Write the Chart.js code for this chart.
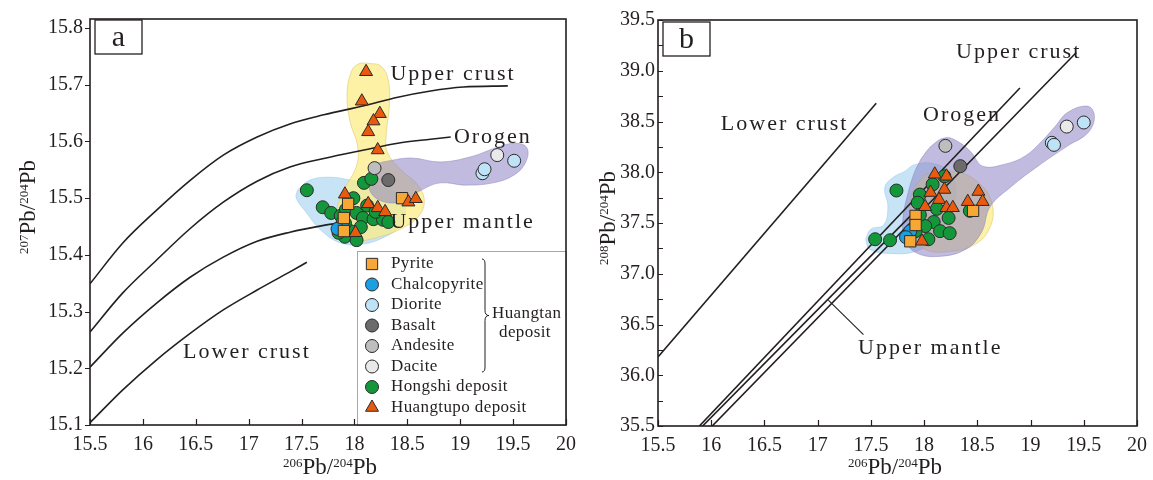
<!DOCTYPE html>
<html>
<head>
<meta charset="utf-8">
<script src="https://cdn.jsdelivr.net/npm/chart.js@4.4.1/dist/chart.umd.min.js"></script>
<style>
  html, body { margin: 0; padding: 0; background: #fff; }
  #wrap { position: relative; width: 1153px; height: 480px; }
  #ca { position: absolute; left: 0; top: 0; }
  #cb { position: absolute; left: 580px; top: 0; }
</style>
</head>
<body>
<div id="wrap">
  <canvas id="ca" width="580" height="480"></canvas>
  <canvas id="cb" width="573" height="480"></canvas>
</div>
<script>
const FONT = "'Liberation Serif', 'Times New Roman', serif";
const INK = '#231f20';

// axis ticks
const xTickValues = [15.5, 16, 16.5, 17, 17.5, 18, 18.5, 19, 19.5, 20];
const yTickValuesA = [15.1, 15.2, 15.3, 15.4, 15.5, 15.6, 15.7, 15.8];
const yTickValuesB = [35.5, 36.0, 36.5, 37.0, 37.5, 38.0, 38.5, 39.0, 39.5];
const yMinorTicksB = [35.75, 36.25, 36.75, 37.25, 37.75, 38.25, 38.75, 39.25];

// panel a growth curves (206Pb/204Pb, 207Pb/204Pb)
const upperCrustA = [[15.5,15.349],[15.81,15.421],[16.13,15.479],[16.45,15.532],[16.76,15.576],[17.08,15.608],[17.39,15.631],[17.71,15.647],[18.09,15.663],[18.41,15.678],[18.72,15.689],[19.03,15.696],[19.45,15.698]];
const orogenA = [[15.5,15.264],[15.81,15.333],[16.13,15.391],[16.45,15.447],[16.76,15.493],[17.08,15.530],[17.39,15.555],[17.71,15.570],[18.09,15.585],[18.41,15.597],[18.72,15.604],[18.91,15.608]];
const mantleA = [[15.5,15.202],[15.81,15.262],[16.13,15.315],[16.45,15.361],[16.76,15.396],[17.08,15.424],[17.39,15.440],[17.71,15.452],[17.91,15.458]];
const lowerCrustA = [[15.5,15.104],[15.81,15.162],[16.13,15.215],[16.45,15.262],[16.76,15.303],[17.08,15.338],[17.39,15.370],[17.55,15.387]];

// panel b growth lines (206Pb/204Pb, 208Pb/204Pb)
const upperCrustB = [[16.0,35.49],[19.43,39.18]];
const orogenB = [[15.88,35.49],[18.90,38.83]];
const mantleB = [[15.91,35.49],[17.90,37.60]];
const lowerCrustB = [[15.5,36.18],[17.55,38.68]];
const mantlePointerB = [[17.10,36.74],[17.43,36.40]];

// shaded fields, panel a
const fieldHuangtupoA = [[18.13,15.738],[18.25,15.733],[18.32,15.708],[18.33,15.664],[18.30,15.611],[18.31,15.581],[18.44,15.550],[18.59,15.525],[18.66,15.497],[18.61,15.469],[18.44,15.446],[18.20,15.430],[17.98,15.425],[17.85,15.440],[17.83,15.476],[17.90,15.514],[18.02,15.557],[18.03,15.592],[17.96,15.634],[17.93,15.682],[17.97,15.723],[18.04,15.737]];
const fieldHongshiA = [[17.46,15.514],[17.58,15.532],[17.77,15.537],[17.96,15.532],[18.20,15.523],[18.39,15.509],[18.48,15.484],[18.44,15.453],[18.29,15.432],[18.08,15.419],[17.87,15.421],[17.68,15.444],[17.54,15.476],[17.45,15.500]];
const fieldHuangtanA = [[18.27,15.564],[18.53,15.571],[18.81,15.564],[19.10,15.573],[19.34,15.589],[19.52,15.597],[19.63,15.589],[19.62,15.564],[19.51,15.541],[19.31,15.527],[19.05,15.523],[18.81,15.527],[18.63,15.514],[18.48,15.497],[18.32,15.492],[18.17,15.506],[18.13,15.536],[18.17,15.557]];

// shaded fields, panel b
const fieldHuangtupoB = [[18.01,37.98],[18.29,38.01],[18.53,37.88],[18.64,37.68],[18.62,37.46],[18.48,37.29],[18.24,37.22],[18.01,37.24],[17.89,37.39],[17.87,37.63],[17.90,37.83]];
const fieldHongshiB = [[17.45,37.34],[17.50,37.44],[17.62,37.48],[17.66,37.66],[17.63,37.85],[17.71,37.95],[17.82,38.01],[17.90,38.07],[18.06,38.09],[18.23,38.01],[18.30,37.83],[18.24,37.58],[18.10,37.34],[17.92,37.22],[17.68,37.20],[17.49,37.24]];
const fieldHuangtanB = [[17.97,38.13],[18.07,38.26],[18.20,38.34],[18.32,38.30],[18.44,38.20],[18.55,38.06],[18.76,38.08],[18.95,38.16],[19.10,38.30],[19.23,38.45],[19.35,38.59],[19.54,38.65],[19.60,38.55],[19.54,38.39],[19.35,38.26],[19.07,38.06],[18.82,37.86],[18.62,37.66],[18.54,37.41],[18.39,37.24],[18.13,37.17],[17.92,37.21],[17.82,37.34],[17.80,37.53],[17.85,37.80],[17.91,38.00]];

// samples, panel a
const pyriteA = [[17.94,15.490],[18.45,15.500],[17.90,15.465],[17.90,15.442]];
const chalcopyriteA = [[17.89,15.458],[17.84,15.446]];
const dioriteA = [[19.21,15.544],[19.23,15.551],[19.51,15.566]];
const basaltA = [[18.32,15.532]];
const andesiteA = [[18.19,15.553]];
const daciteA = [[19.35,15.576]];
const hongshiA = [[17.55,15.514],[17.70,15.484],[17.78,15.474],[17.87,15.469],[17.92,15.480],[17.99,15.500],[18.02,15.474],[18.09,15.527],[18.16,15.534],[18.12,15.487],[18.08,15.465],[18.18,15.463],[18.27,15.462],[18.32,15.458],[18.06,15.449],[17.96,15.442],[17.91,15.432],[18.02,15.426],[17.85,15.439],[17.91,15.456],[18.20,15.476]];
const huangtupoA = [[18.11,15.723],[18.07,15.671],[18.24,15.649],[18.18,15.636],[18.13,15.617],[18.22,15.585],[17.91,15.507],[18.51,15.493],[18.58,15.499],[18.13,15.490],[18.22,15.483],[18.29,15.476],[18.01,15.439]];

// samples, panel b
const pyriteB = [[17.92,37.57],[17.92,37.48],[17.87,37.32],[18.46,37.62]];
const chalcopyriteB = [[17.87,37.42],[17.83,37.36]];
const dioriteB = [[19.50,38.49],[19.20,38.29],[19.22,38.27]];
const basaltB = [[18.34,38.06]];
const andesiteB = [[18.20,38.26]];
const daciteB = [[19.34,38.45]];
const hongshiB = [[17.74,37.82],[17.54,37.34],[17.68,37.33],[18.19,37.96],[18.08,37.88],[17.96,37.78],[17.94,37.70],[18.12,37.64],[18.23,37.55],[18.09,37.51],[18.01,37.47],[18.15,37.42],[18.24,37.40],[18.04,37.34],[18.43,37.62],[17.96,37.58],[17.92,37.42]];
const huangtupoB = [[18.10,37.98],[18.21,37.96],[18.19,37.83],[18.06,37.80],[18.14,37.73],[18.21,37.65],[18.27,37.65],[18.51,37.81],[18.41,37.71],[18.55,37.71],[18.01,37.66],[17.98,37.32]];

const legendNames = ['Pyrite', 'Chalcopyrite', 'Diorite', 'Basalt', 'Andesite', 'Dacite', 'Hongshi deposit', 'Huangtupo deposit'];

const markerStyle = {
  'Pyrite': { shape: 'rect', r: 8, color: '#f7a733', order: 1 },
  'Chalcopyrite': { shape: 'circle', r: 6.5, color: '#1b9fe3', order: 2 },
  'Diorite': { shape: 'circle', r: 6.5, color: '#bfe3f6', order: 2 },
  'Basalt': { shape: 'circle', r: 6.5, color: '#6b6b6b', order: 2 },
  'Andesite': { shape: 'circle', r: 6.5, color: '#bebebe', order: 2 },
  'Dacite': { shape: 'circle', r: 6.5, color: '#e9e9e9', order: 2 },
  'Hongshi deposit': { shape: 'circle', r: 6.5, color: '#14973a', order: 3 },
  'Huangtupo deposit': { shape: 'triangle', r: 7.5, color: '#e9590e', order: 0 }
};

function xy(arr) { return arr.map(p => ({ x: p[0], y: p[1] })); }

function blobSet(pts, fill, edge, order) {
  return { data: xy(pts.concat([pts[0]])), showLine: true, fill: 'shape', backgroundColor: fill,
    borderColor: edge, borderWidth: 0.8, pointRadius: 0, tension: 0.4, order: order };
}
function curveSet(pts, width) {
  return { data: xy(pts), showLine: true, fill: false, borderColor: INK, borderWidth: width || 1.6,
    pointRadius: 0, cubicInterpolationMode: 'monotone', order: 5 };
}
function pointSet(name, pts) {
  const m = markerStyle[name];
  return { label: name, data: xy(pts), pointStyle: m.shape, pointRadius: m.r, backgroundColor: m.color,
    borderColor: '#2b2b2b', borderWidth: 1, order: m.order };
}

function drawMarker(ctx, name, x, y) {
  const m = markerStyle[name];
  ctx.save();
  ctx.fillStyle = m.color; ctx.strokeStyle = '#2b2b2b'; ctx.lineWidth = 1;
  ctx.beginPath();
  if (m.shape === 'rect') {
    const h = m.r * Math.SQRT1_2;
    ctx.rect(x - h, y - h, 2 * h, 2 * h);
  } else if (m.shape === 'triangle') {
    for (let i = 0; i < 3; i++) {
      const a = i * 2 * Math.PI / 3;
      const px = x + Math.sin(a) * m.r, py = y - Math.cos(a) * m.r;
      if (i === 0) ctx.moveTo(px, py); else ctx.lineTo(px, py);
    }
    ctx.closePath();
  } else {
    ctx.arc(x, y, m.r, 0, 2 * Math.PI);
  }
  ctx.fill(); ctx.stroke();
  ctx.restore();
}

function drawIsoTitle(ctx, t) {
  const parts = [[t.sup1, true], ['Pb/', false], [t.sup2, true], ['Pb', false]];
  const big = '23px ' + FONT, small = '13px ' + FONT;
  ctx.save();
  ctx.translate(t.x, t.y);
  if (t.rotate) ctx.rotate(-Math.PI / 2);
  ctx.textAlign = 'left'; ctx.textBaseline = 'alphabetic';
  let total = 0;
  parts.forEach(p => { ctx.font = p[1] ? small : big; total += ctx.measureText(p[0]).width; });
  let cx = -total / 2;
  parts.forEach(p => {
    ctx.font = p[1] ? small : big;
    ctx.fillText(p[0], cx, p[1] ? -7 : 0);
    cx += ctx.measureText(p[0]).width;
  });
  ctx.restore();
}

function drawLegend(ctx, L) {
  ctx.save();
  ctx.fillStyle = '#fff';
  ctx.fillRect(L.left, L.top, L.right - L.left, L.bottom - L.top);
  ctx.strokeStyle = '#a7a7a7'; ctx.lineWidth = 1;
  ctx.strokeRect(L.left + 0.5, L.top + 0.5, L.right - L.left, L.bottom - L.top);
  ctx.font = '17px ' + FONT; ctx.fillStyle = INK;
  ctx.textAlign = 'left'; ctx.textBaseline = 'middle';
  ctx.letterSpacing = '0.4px';
  legendNames.forEach((n, i) => {
    const y = L.firstRow + i * L.step;
    drawMarker(ctx, n, L.markerX, y);
    ctx.fillText(n, L.textX, y);
  });
  // brace grouping the Huangtan deposit samples
  const bx = L.braceX, t = L.braceTop, b = L.braceBottom, m = (t + b) / 2;
  ctx.strokeStyle = INK; ctx.lineWidth = 1;
  ctx.beginPath();
  ctx.moveTo(bx - 3, t);
  ctx.quadraticCurveTo(bx, t, bx, t + 5);
  ctx.lineTo(bx, m - 5);
  ctx.quadraticCurveTo(bx, m, bx + 4, m);
  ctx.quadraticCurveTo(bx, m, bx, m + 5);
  ctx.lineTo(bx, b - 5);
  ctx.quadraticCurveTo(bx, b, bx - 3, b);
  ctx.stroke();
  ctx.fillText('Huangtan', L.groupX, L.groupY);
  ctx.fillText('deposit', L.groupX + 7, L.groupY + 19);
  ctx.restore();
}

const decor = {
  id: 'decor',
  afterDraw(chart, args, o) {
    const ctx = chart.ctx, a = chart.chartArea, sx = chart.scales.x, sy = chart.scales.y;
    ctx.save();
    ctx.strokeStyle = INK; ctx.fillStyle = INK;
    if (o.legend) drawLegend(ctx, o.legend);
    // tick marks
    ctx.lineWidth = 1.2;
    ctx.beginPath();
    xTickValues.forEach(v => {
      const px = Math.round(sx.getPixelForValue(v)) + 0.5;
      ctx.moveTo(px, a.bottom); ctx.lineTo(px, a.bottom - 6);
    });
    o.yTicks.forEach(v => {
      const py = Math.round(sy.getPixelForValue(v)) + 0.5;
      if (o.yTicksOut) { ctx.moveTo(a.left - 5, py); ctx.lineTo(a.left, py); }
      else { ctx.moveTo(a.left, py); ctx.lineTo(a.left + 5, py); }
    });
    ctx.stroke();
    // frame
    ctx.lineWidth = 1.6;
    ctx.strokeRect(a.left, a.top, a.right - a.left, a.bottom - a.top);
    // panel letter
    const L = o.letter;
    ctx.lineWidth = 1.3;
    ctx.fillStyle = '#fff';
    ctx.fillRect(L.x, L.y, L.w, L.h);
    ctx.strokeRect(L.x, L.y, L.w, L.h);
    ctx.fillStyle = INK;
    ctx.font = '30px ' + FONT; ctx.textAlign = 'center'; ctx.textBaseline = 'middle';
    ctx.fillText(L.text, L.x + L.w / 2, L.y + L.h / 2 + 1);
    // curve names
    ctx.font = '22px ' + FONT; ctx.textAlign = 'left'; ctx.letterSpacing = '2px';
    o.labels.forEach(l => ctx.fillText(l.text, sx.getPixelForValue(l.x), sy.getPixelForValue(l.y)));
    ctx.letterSpacing = '0px';
    drawIsoTitle(ctx, o.xTitle);
    drawIsoTitle(ctx, o.yTitle);
    ctx.restore();
  }
};

function scales(yMin, yMax, yTicks, yWidth, yPad, xHeight) {
  const tickFont = { family: FONT, size: 20 };
  return {
    x: {
      type: 'linear', min: 15.5, max: 20,
      afterBuildTicks: s => { s.ticks = xTickValues.map(v => ({ value: v })); },
      afterFit: s => { s.height = xHeight; },
      grid: { display: false, drawTicks: true, tickLength: 4 }, border: { display: false },
      ticks: { autoSkip: false, maxRotation: 0, padding: 4, color: INK, font: tickFont, callback: v => String(v) }
    },
    y: {
      type: 'linear', min: yMin, max: yMax,
      afterBuildTicks: s => { s.ticks = yTicks.map(v => ({ value: v })); },
      afterFit: s => { s.width = yWidth; },
      grid: { display: false, drawTicks: false }, border: { display: false },
      ticks: { autoSkip: false, padding: yPad, color: INK, font: tickFont, callback: v => v.toFixed(1) }
    }
  };
}

function sampleSets(p) {
  return [
    pointSet('Huangtupo deposit', p.huangtupo),
    pointSet('Pyrite', p.pyrite),
    pointSet('Chalcopyrite', p.chalcopyrite),
    pointSet('Diorite', p.diorite),
    pointSet('Basalt', p.basalt),
    pointSet('Andesite', p.andesite),
    pointSet('Dacite', p.dacite),
    pointSet('Hongshi deposit', p.hongshi)
  ];
}

const YELLOW = 'rgba(251, 236, 135, 0.75)', YELLOW_EDGE = 'rgba(222, 200, 110, 0.75)';
const BLUE = 'rgba(165, 212, 242, 0.62)', BLUE_EDGE = 'rgba(150, 195, 230, 0.6)';
const PURPLE = 'rgba(140, 132, 196, 0.55)', PURPLE_EDGE = 'rgba(130, 122, 186, 0.55)';

new Chart(document.getElementById('ca'), {
  type: 'scatter',
  data: {
    datasets: sampleSets({ huangtupo: huangtupoA, pyrite: pyriteA, chalcopyrite: chalcopyriteA, diorite: dioriteA,
      basalt: basaltA, andesite: andesiteA, dacite: daciteA, hongshi: hongshiA }).concat([
      curveSet(upperCrustA), curveSet(orogenA), curveSet(mantleA), curveSet(lowerCrustA),
      blobSet(fieldHuangtanA, PURPLE, PURPLE_EDGE, 10),
      blobSet(fieldHuangtupoA, YELLOW, YELLOW_EDGE, 11),
      blobSet(fieldHongshiA, BLUE, BLUE_EDGE, 12)
    ])
  },
  options: {
    responsive: false, animation: false, events: [],
    layout: { padding: { top: 19, right: 14, left: 0, bottom: 0 } },
    scales: scales(15.1, 15.816, yTickValuesA, 90, 7, 55),
    plugins: {
      legend: { display: false }, tooltip: { enabled: false },
      decor: {
        yTicks: yTickValuesA, yTicksOut: true,
        letter: { text: 'a', x: 95, y: 20, w: 47, h: 34 },
        labels: [
          { text: 'Upper crust', x: 18.34, y: 15.719 },
          { text: 'Orogen', x: 18.94, y: 15.608 },
          { text: 'Upper mantle', x: 18.34, y: 15.458 },
          { text: 'Lower crust', x: 16.38, y: 15.229 }
        ],
        xTitle: { sup1: '206', sup2: '204', x: 330, y: 474 },
        yTitle: { sup1: '207', sup2: '204', x: 35, y: 207, rotate: true },
        legend: { left: 357, top: 251, right: 566, bottom: 425, firstRow: 264, step: 20.5,
          markerX: 372, textX: 391, braceX: 485, braceTop: 259, braceBottom: 372, groupX: 492, groupY: 314 }
      }
    }
  },
  plugins: [decor]
});

new Chart(document.getElementById('cb'), {
  type: 'scatter',
  data: {
    datasets: sampleSets({ huangtupo: huangtupoB, pyrite: pyriteB, chalcopyrite: chalcopyriteB, diorite: dioriteB,
      basalt: basaltB, andesite: andesiteB, dacite: daciteB, hongshi: hongshiB }).concat([
      curveSet(upperCrustB), curveSet(orogenB), curveSet(mantleB), curveSet(lowerCrustB),
      curveSet(mantlePointerB, 1.1),
      blobSet(fieldHuangtanB, PURPLE, PURPLE_EDGE, 10),
      blobSet(fieldHuangtupoB, YELLOW, YELLOW_EDGE, 11),
      blobSet(fieldHongshiB, BLUE, BLUE_EDGE, 12)
    ])
  },
  options: {
    responsive: false, animation: false, events: [],
    layout: { padding: { top: 20, right: 16, left: 0, bottom: 0 } },
    scales: scales(35.5, 39.5, yTickValuesB, 78, 3, 54),
    plugins: {
      legend: { display: false }, tooltip: { enabled: false },
      decor: {
        yTicks: yTickValuesB.concat(yMinorTicksB), yTicksOut: false,
        letter: { text: 'b', x: 83, y: 22, w: 47, h: 34 },
        labels: [
          { text: 'Upper crust', x: 18.30, y: 39.18 },
          { text: 'Orogen', x: 17.99, y: 38.56 },
          { text: 'Lower crust', x: 16.09, y: 38.47 },
          { text: 'Upper mantle', x: 17.38, y: 36.27 }
        ],
        xTitle: { sup1: '206', sup2: '204', x: 315, y: 474 },
        yTitle: { sup1: '208', sup2: '204', x: 35, y: 218, rotate: true }
      }
    }
  },
  plugins: [decor]
});
</script>
</body>
</html>
